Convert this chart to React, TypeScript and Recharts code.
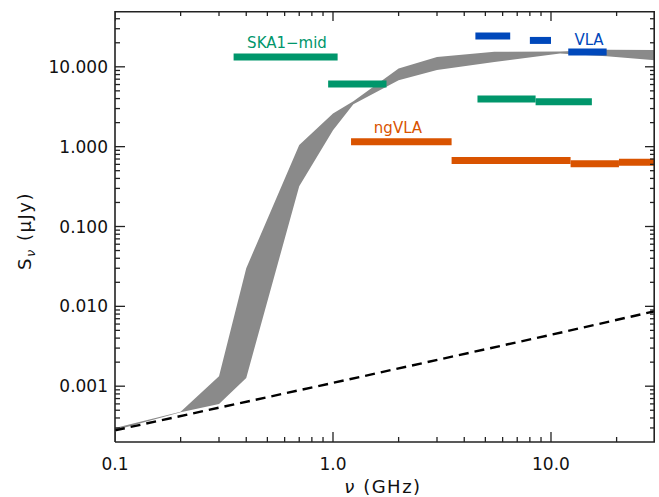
import { ComposedChart, Area, Line, XAxis, YAxis } from 'recharts';

// grey band: model range on a common frequency grid (GHz, uJy)
const bandFreq = [0.1, 0.2, 0.3, 0.4, 0.7, 1.0, 1.24, 2.0, 3.0, 5.5, 11, 18, 30];
const bandLow = [0.00028, 0.00047, 0.0006, 0.00127, 0.32, 1.6, 3.4, 6.8, 9.1, 11.5, 14.7, 13.6, 12.1];
const bandHigh = [0.0003, 0.00048, 0.00133, 0.03, 1.05, 2.6, 3.7, 9.5, 13.3, 15.4, 15.6, 16.4, 16.2];

// dashed power law
const dashFreq = [0.1, 1, 10, 30];
const dashFlux = [0.00028, 0.0011, 0.0044, 0.0087];

// sensitivity bands: start / end frequency and level
const skaLow = [0.35, 0.95, 4.6, 8.5];
const skaHigh = [1.05, 1.76, 8.5, 15.4];
const skaFlux = [13.3, 6.1, 3.95, 3.65];

const ngvlaLow = [1.21, 3.5, 12.3, 20.5];
const ngvlaHigh = [3.5, 12.3, 20.5, 30];
const ngvlaFlux = [1.15, 0.67, 0.61, 0.64];

const vlaLow = [4.5, 8.0, 12.0];
const vlaHigh = [6.5, 10.0, 18.0];
const vlaFlux = [24.4, 21.4, 15.3];

const X_DOMAIN = [0.1, 30];
const Y_DOMAIN = [0.0002, 50];

const xMajor = [0.1, 1, 10];
const xMinor = [0.2, 0.3, 0.4, 0.5, 0.6, 0.7, 0.8, 0.9, 2, 3, 4, 5, 6, 7, 8, 9, 20];
const yMajor = [0.001, 0.01, 0.1, 1, 10];
const yMinor = [
  0.0003, 0.0004, 0.0005, 0.0006, 0.0007, 0.0008, 0.0009,
  0.002, 0.003, 0.004, 0.005, 0.006, 0.007, 0.008, 0.009,
  0.02, 0.03, 0.04, 0.05, 0.06, 0.07, 0.08, 0.09,
  0.2, 0.3, 0.4, 0.5, 0.6, 0.7, 0.8, 0.9,
  2, 3, 4, 5, 6, 7, 8, 9, 20, 30, 40,
];

const GREEN = '#00966b';
const ORANGE = '#d95300';
const BLUE = '#0048bb';
const AXIS = '#222';
const FONT = '"DejaVu Sans", sans-serif';

// plot box is 540 x 431 px; used to turn tick lengths in px into log-axis factors
const PX_PER_DEC_X = 540 / Math.log10(X_DOMAIN[1] / X_DOMAIN[0]);
const PX_PER_DEC_Y = 431 / Math.log10(Y_DOMAIN[1] / Y_DOMAIN[0]);
const fx = (px: number) => Math.pow(10, px / PX_PER_DEC_X);
const fy = (px: number) => Math.pow(10, px / PX_PER_DEC_Y);

const bandData = bandFreq.map((x, i) => ({ x, range: [bandLow[i], bandHigh[i]] }));
const dashData = dashFreq.map((x, i) => ({ x, y: dashFlux[i] }));

const segments = (lo: number[], hi: number[], v: number[]) =>
  lo.map((l, i) => [
    { x: l, y: v[i] },
    { x: hi[i], y: v[i] },
  ]);

const skaSegs = segments(skaLow, skaHigh, skaFlux);
const ngvlaSegs = segments(ngvlaLow, ngvlaHigh, ngvlaFlux);
const vlaSegs = segments(vlaLow, vlaHigh, vlaFlux);

const xTicks = [...xMajor, ...xMinor].sort((a, b) => a - b);
const yTicks = [...yMajor, ...yMinor].sort((a, b) => a - b);

// IDL-style inward tick marks on all four sides
const tickMarks: { x: number; y: number }[][] = [];
xTicks.forEach((t) => {
  const k = fy(xMajor.includes(t) ? 10 : 5);
  tickMarks.push([{ x: t, y: Y_DOMAIN[0] }, { x: t, y: Y_DOMAIN[0] * k }]);
  tickMarks.push([{ x: t, y: Y_DOMAIN[1] }, { x: t, y: Y_DOMAIN[1] / k }]);
});
yTicks.forEach((t) => {
  const k = fx(yMajor.includes(t) ? 10 : 5);
  tickMarks.push([{ x: X_DOMAIN[0], y: t }, { x: X_DOMAIN[0] * k, y: t }]);
  tickMarks.push([{ x: X_DOMAIN[1], y: t }, { x: X_DOMAIN[1] / k, y: t }]);
});

// top and right edges of the frame
const frameTop = [{ x: X_DOMAIN[0], y: Y_DOMAIN[1] }, { x: X_DOMAIN[1], y: Y_DOMAIN[1] }];
const frameRight = [{ x: X_DOMAIN[1], y: Y_DOMAIN[0] }, { x: X_DOMAIN[1], y: Y_DOMAIN[1] }];

function AxisLabel(props: any) {
  const { x, y, payload, side } = props;
  const v = payload.value;
  if (side === 'bottom') {
    return (
      <text x={x} y={y + 28} textAnchor="middle" fill="#111" fontSize={17}>
        {xMajor.includes(v) ? v.toFixed(1) : ''}
      </text>
    );
  }
  return (
    <text x={x - 7} y={y + 6} textAnchor="end" fill="#111" fontSize={17}>
      {yMajor.includes(v) ? v.toFixed(3) : ''}
    </text>
  );
}

// axis titles and instrument names
function Titles() {
  return (
    <g fontFamily={FONT}>
      <g fontSize={15} textAnchor="middle">
        <text x={287} y={48} fill={GREEN}>SKA1−mid</text>
        <text x={398} y={132.5} fill={ORANGE}>ngVLA</text>
        <text x={589} y={44.5} fill={BLUE}>VLA</text>
      </g>
      <text x={383} y={493} textAnchor="middle" fontSize={18} letterSpacing={1.5} fill="#111">
        <tspan fontStyle="italic">ν</tspan> (GHz)
      </text>
      <text
        x={25}
        y={237}
        textAnchor="middle"
        transform="rotate(-90 25 231)"
        fontSize={18}
        letterSpacing={1.5}
        fill="#111"
      >
        S<tspan fontSize={13} dy="4" fontStyle="italic">ν</tspan>
        <tspan dy="-4"> (μJy)</tspan>
      </text>
    </g>
  );
}

export default function App() {
  return (
    <div style={{ position: 'absolute', left: 0, top: 0, width: 659, height: 497, background: '#fff', fontFamily: FONT }}>
      <ComposedChart width={659} height={497} margin={{ top: 11, right: 4, left: 0, bottom: 0 }}>
        <XAxis
          dataKey="x"
          type="number"
          scale="log"
          domain={X_DOMAIN}
          allowDataOverflow
          ticks={xMajor}
          interval={0}
          height={55}
          tickSize={0}
          tickMargin={0}
          tickLine={false}
          tick={<AxisLabel side="bottom" />}
          axisLine={{ stroke: AXIS, strokeWidth: 1.6 }}
          label={<Titles />}
        />
        <YAxis
          type="number"
          scale="log"
          domain={Y_DOMAIN}
          allowDataOverflow
          ticks={yMajor}
          interval={0}
          width={115}
          tickSize={0}
          tickMargin={0}
          tickLine={false}
          tick={<AxisLabel side="left" />}
          axisLine={{ stroke: AXIS, strokeWidth: 1.6 }}
        />
        <Area
          data={bandData}
          dataKey="range"
          type="linear"
          fill="#8a8a8a"
          fillOpacity={1}
          stroke="none"
          isAnimationActive={false}
        />
        <Line
          data={dashData}
          dataKey="y"
          stroke="#000"
          strokeWidth={2.4}
          strokeDasharray="10 6"
          dot={false}
          isAnimationActive={false}
        />
        {skaSegs.map((d, i) => (
          <Line key={'s' + i} data={d} dataKey="y" stroke={GREEN} strokeWidth={7} dot={false} isAnimationActive={false} />
        ))}
        {ngvlaSegs.map((d, i) => (
          <Line key={'n' + i} data={d} dataKey="y" stroke={ORANGE} strokeWidth={7} dot={false} isAnimationActive={false} />
        ))}
        {vlaSegs.map((d, i) => (
          <Line key={'v' + i} data={d} dataKey="y" stroke={BLUE} strokeWidth={7} dot={false} isAnimationActive={false} />
        ))}
        {tickMarks.map((d, i) => (
          <Line key={'t' + i} data={d} dataKey="y" stroke={AXIS} strokeWidth={1.3} dot={false} activeDot={false} isAnimationActive={false} />
        ))}
        <Line data={frameTop} dataKey="y" stroke={AXIS} strokeWidth={3.2} dot={false} activeDot={false} isAnimationActive={false} />
        <Line data={frameRight} dataKey="y" stroke={AXIS} strokeWidth={3.2} dot={false} activeDot={false} isAnimationActive={false} />
      </ComposedChart>
    </div>
  );
}
